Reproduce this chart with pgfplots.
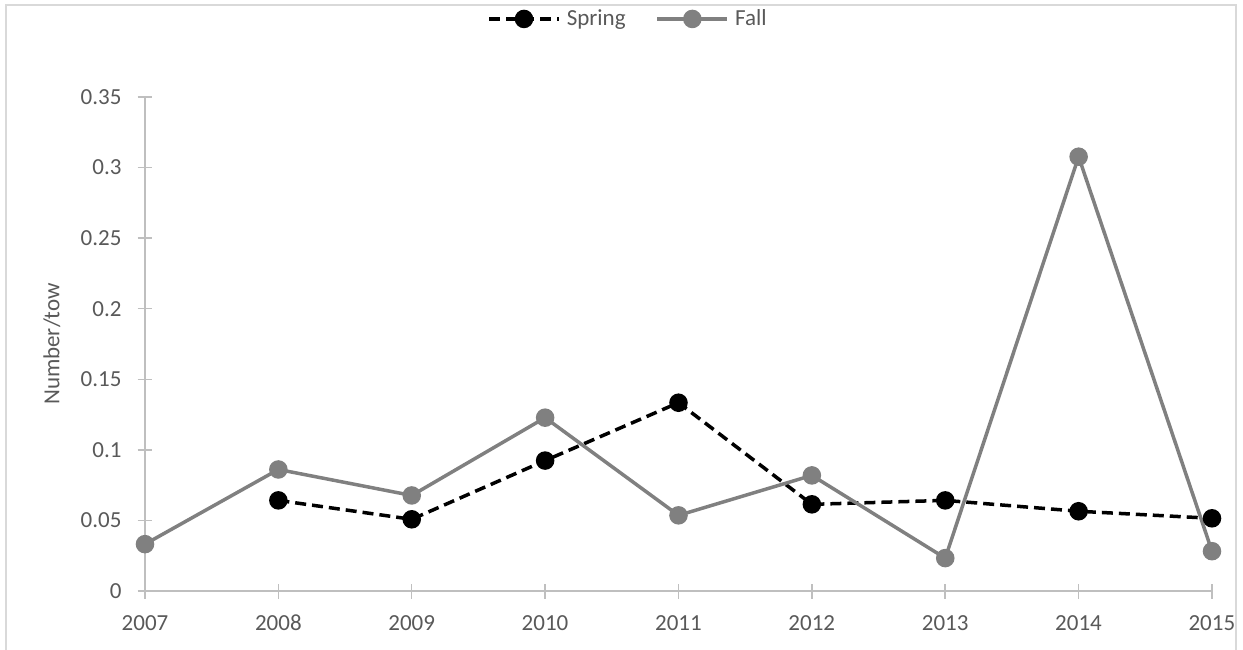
\documentclass[border=0pt]{standalone}
\usepackage{pgfplots}
\pgfplotsset{compat=1.18}
\usepackage{fontspec}
\setmainfont{Carlito}
\definecolor{txt}{HTML}{595959}
\definecolor{axl}{HTML}{BFBFBF}
\definecolor{fallc}{HTML}{808080}
\definecolor{frm}{HTML}{D9D9D9}
\pgfplotstableread{
year spring
2008 0.0642
2009 0.0508
2010 0.0924
2011 0.1334
2012 0.0614
2013 0.0642
2014 0.0565
2015 0.0515
}\springdata
\pgfplotstableread{
year fall
2007 0.0332
2008 0.0861
2009 0.0677
2010 0.1228
2011 0.0536
2012 0.0819
2013 0.0233
2014 0.3077
2015 0.0282
}\falldata
\begin{document}
\fontsize{11.5pt}{13.8pt}\selectfont
\begin{tikzpicture}
\useasboundingbox (0,0) rectangle (621.5pt,324.5pt);
\draw[frm, line width=0.75pt] (3pt,-10pt) rectangle (618pt,322pt);
\begin{axis}[
  at={(72.5pt,29pt)}, anchor=south west,
  scale only axis, width=533.5pt, height=247pt,
  xmin=2007, xmax=2015, ymin=0, ymax=0.35,
  xtick={2007,...,2015},
  ytick={0,0.05,0.1,0.15,0.2,0.25,0.3,0.35},
  axis lines=left,
  axis line style={axl, line width=0.75pt, -},
  tick style={axl, line width=0.75pt},
  major tick length=7.5pt, tick align=center,
  ticklabel style={font=\fontsize{11.5pt}{13.8pt}\selectfont, text=txt},
  xticklabel style={/pgf/number format/1000 sep={}, text height=8pt, text depth=1pt, yshift=-4pt},
  yticklabel style={/pgf/number format/fixed, /pgf/number format/precision=2, xshift=-4pt},
  scaled y ticks=false,
  /pgf/number format/assume math mode=true,
  ylabel={Number/tow},
  ylabel style={at={(axis description cs:-0.0872,0.5)}, anchor=center, text=txt, font=\fontsize{11.5pt}{13.8pt}\selectfont},
  legend style={at={(0.4545,1.158)}, anchor=center, legend columns=2, draw=none, fill=none,
    font=\fontsize{11.5pt}{13.8pt}\selectfont, text=txt,
    nodes={inner xsep=3pt},
    /tikz/every even column/.append style={column sep=12pt}},
  legend image code/.code={
    \draw[#1] (0pt,0pt) -- (35pt,0pt);
    \draw[#1, solid] plot coordinates {(17.5pt,0pt)};
  },
  clip=false,
]
\addplot[black, line width=1.75pt, dash pattern=on 5.5pt off 3pt, mark=*, mark size=3.75pt, mark options={solid, fill=black}] table[x=year, y=spring] {\springdata};
\addlegendentry{Spring}
\addplot[fallc, line width=1.75pt, mark=*, mark size=3.75pt, mark options={solid, fill=fallc}] table[x=year, y=fall] {\falldata};
\addlegendentry{Fall}
\end{axis}
\end{tikzpicture}
\end{document}
